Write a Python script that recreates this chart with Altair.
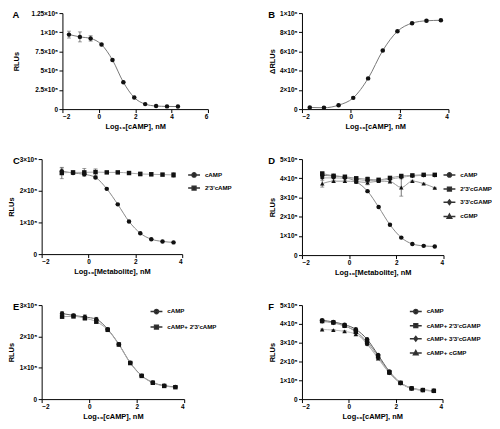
import altair as alt
import pandas as pd

FONT = "Liberation Sans"

# log10 concentrations (nM)
x_a = [-1.64, -1.04, -0.45, 0.15, 0.75, 1.35, 1.95, 2.55, 3.15, 3.75, 4.35]
x_b = [-1.68, -1.10, -0.50, 0.10, 0.71, 1.31, 1.91, 2.51, 3.10, 3.69]
x_c = [-1.14, -0.66, -0.18, 0.30, 0.78, 1.25, 1.73, 2.21, 2.68, 3.16, 3.63]

# A: RLUs vs cAMP
a_camp = [9.7e5, 9.4e5, 9.2e5, 8.4e5, 6.4e5, 3.5e5, 1.5e5, 0.65e5, 0.4e5, 0.35e5, 0.33e5]
a_err = [0.45e5, 0.65e5, 0.35e5, 0.15e5, 0.1e5, 0.08e5, 0.05e5, 0.03e5, 0.03e5, 0.02e5, 0.02e5]

# B: delta RLUs vs cAMP
b_camp = [1.7e4, 1.4e4, 4.1e4, 1.17e5, 3.2e5, 6.1e5, 8.1e5, 8.95e5, 9.2e5, 9.25e5]
b_err = [0.1e5] * 10

# C: cAMP vs 2'3'cAMP
c_camp = [2.62e5, 2.56e5, 2.52e5, 2.42e5, 2.06e5, 1.57e5, 1.03e5, 0.66e5, 0.47e5, 0.40e5, 0.37e5]
c_camp_err = [0.1e5, 0.03e5, 0.03e5, 0.03e5, 0.02e5, 0.02e5, 0.02e5, 0.02e5, 0.02e5, 0.01e5, 0.01e5]
c_23camp = [2.56e5, 2.58e5, 2.58e5, 2.59e5, 2.58e5, 2.58e5, 2.56e5, 2.53e5, 2.52e5, 2.51e5, 2.50e5]
c_23camp_err = [0.18e5, 0.04e5, 0.12e5, 0.1e5, 0.03e5, 0.03e5, 0.03e5, 0.06e5, 0.05e5, 0.04e5, 0.08e5]

# D: cAMP vs other metabolites
d_camp = [4.15e5, 4.12e5, 4.05e5, 3.82e5, 3.33e5, 2.50e5, 1.58e5, 0.91e5, 0.58e5, 0.48e5, 0.45e5]
d_camp_err = [0.05e5, 0.03e5, 0.03e5, 0.05e5, 0.04e5, 0.03e5, 0.03e5, 0.03e5, 0.02e5, 0.02e5, 0.02e5]
d_23cgamp = [4.25e5, 4.13e5, 4.08e5, 4.00e5, 3.95e5, 3.92e5, 4.02e5, 4.12e5, 4.15e5, 4.18e5, 4.18e5]
d_23cgamp_err = [0.06e5, 0.03e5, 0.04e5, 0.05e5, 0.12e5, 0.04e5, 0.03e5, 0.03e5, 0.03e5, 0.03e5, 0.03e5]
d_33cgamp = [4.02e5, 4.02e5, 4.00e5, 3.95e5, 3.88e5, 3.90e5, 3.95e5, 4.05e5, 4.12e5, 4.15e5, 4.16e5]
d_33cgamp_err = [0.04e5, 0.03e5, 0.03e5, 0.04e5, 0.05e5, 0.03e5, 0.03e5, 0.03e5, 0.03e5, 0.03e5, 0.03e5]
d_cgmp = [3.72e5, 3.85e5, 3.85e5, 3.83e5, 3.78e5, 3.85e5, 3.83e5, 3.52e5, 3.85e5, 3.72e5, 3.50e5]
d_cgmp_err = [0.18e5, 0.05e5, 0.05e5, 0.05e5, 0.12e5, 0.03e5, 0.03e5, 0.45e5, 0.05e5, 0.03e5, 0.03e5]

# E: cAMP alone and with 2'3'cAMP
e_camp = [2.73e5, 2.67e5, 2.62e5, 2.55e5, 2.23e5, 1.75e5, 1.16e5, 0.75e5, 0.53e5, 0.43e5, 0.39e5]
e_camp_err = [0.06e5, 0.05e5, 0.07e5, 0.06e5, 0.03e5, 0.03e5, 0.02e5, 0.02e5, 0.02e5, 0.02e5, 0.02e5]
e_mix = [2.63e5, 2.64e5, 2.58e5, 2.47e5, 2.21e5, 1.74e5, 1.15e5, 0.74e5, 0.52e5, 0.42e5, 0.38e5]
e_mix_err = [0.05e5, 0.05e5, 0.05e5, 0.06e5, 0.03e5, 0.03e5, 0.02e5, 0.02e5, 0.02e5, 0.02e5, 0.02e5]

# F: cAMP alone and with other metabolites
f_camp = [4.19e5, 4.10e5, 3.96e5, 3.71e5, 3.18e5, 2.35e5, 1.47e5, 0.87e5, 0.58e5, 0.49e5, 0.44e5]
f_23 = [4.15e5, 4.07e5, 3.90e5, 3.58e5, 3.05e5, 2.28e5, 1.43e5, 0.86e5, 0.57e5, 0.48e5, 0.44e5]
f_33 = [4.12e5, 4.05e5, 3.88e5, 3.62e5, 2.92e5, 2.20e5, 1.38e5, 0.84e5, 0.56e5, 0.47e5, 0.43e5]
f_cgmp = [3.70e5, 3.67e5, 3.60e5, 3.45e5, 2.95e5, 2.15e5, 1.40e5, 0.85e5, 0.57e5, 0.48e5, 0.44e5]
f_err = [0.03e5, 0.03e5, 0.04e5, 0.04e5, 0.04e5, 0.03e5, 0.03e5, 0.02e5, 0.02e5, 0.02e5, 0.02e5]

SHAPES = {"circle": "circle", "square": "square", "diamond": "diamond", "triangle": "triangle-up"}
# legend symbols: a short line with the marker on it, Prism style
LEG_PATHS = {
    "circle": "M-1,0H1M-0.36,0A0.36,0.36,0,1,0,0.36,0A0.36,0.36,0,1,0,-0.36,0Z",
    "square": "M-1,0H1M-0.32,-0.32H0.32V0.32H-0.32Z",
    "diamond": "M-1,0H1M0,-0.38L0.3,0L0,0.38L-0.3,0Z",
    "triangle": "M-1,0H1M0,-0.4L0.38,0.3H-0.38Z",
}


def sci_labels(vals, labels):
    expr = "''"
    for v, lab in reversed(list(zip(vals, labels))):
        expr = f"datum.value == {v} ? '{lab}' : {expr}"
    return expr


def panel(letter, x, series, x_title, y_title, x_max, y_ticks, y_labels,
          w, h, ytp=3.3, lead=0, dx=0, leg=None, row_pad=1.3):
    rows = []
    for name, ys, errs, shape, col in series:
        for xi, yi, ei in zip(x, ys, errs):
            rows.append({"x": xi, "y": yi, "err": ei, "series": name})
    df = pd.DataFrame(rows)
    names = [s[0] for s in series]

    xscale = alt.Scale(domain=[-2, x_max], nice=False)
    if lead:
        xscale = alt.Scale(domain=[-2, x_max], nice=False, range=[lead, w])
    xenc = alt.X("x:Q", scale=xscale,
                 axis=alt.Axis(values=list(range(-2, x_max + 1, 2)), title=x_title))
    yenc = alt.Y("y:Q", scale=alt.Scale(domain=[0, y_ticks[-1]], nice=False),
                 axis=alt.Axis(values=y_ticks, labelExpr=sci_labels(y_ticks, y_labels),
                               title=y_title, titlePadding=ytp, offset=-lead))

    base = alt.Chart(df)
    curve = base.mark_line(interpolate="monotone", strokeWidth=1).encode(
        xenc, yenc,
        color=alt.Color("series:N", scale=alt.Scale(domain=names, range=[s[4] for s in series]), legend=None),
    )
    bars = base.mark_errorbar(ticks=True, size=4, thickness=0.8, color="#555").encode(
        xenc, yenc, yError="err:Q"
    )
    pts = base.mark_point(filled=True, opacity=1, color="#111", size=20).encode(
        xenc, yenc,
        shape=alt.Shape("series:N", scale=alt.Scale(domain=names, range=[SHAPES[s[3]] for s in series]), legend=None),
    )
    layers = [curve, bars, pts]
    if leg:
        lg = base.transform_filter("false").mark_point(
            filled=True, fill="#111", stroke="#333", strokeWidth=0.9, opacity=1
        ).encode(
            xenc, yenc,
            shape=alt.Shape("series:N",
                            scale=alt.Scale(domain=names, range=[LEG_PATHS[s[3]] for s in series]),
                            legend=alt.Legend(title=None, orient="none", legendX=leg[0], legendY=leg[1],
                                              padding=0, symbolSize=144, labelFontSize=6.2,
                                              labelFont=FONT, labelFontWeight="bold", rowPadding=row_pad,
                                              labelOffset=4)),
        )
        layers.append(lg)
    chart = alt.layer(*layers).resolve_scale(shape="independent", color="independent")
    return chart.properties(
        width=w, height=h,
        title=alt.TitleParams(letter, anchor="start", frame="bounds", fontSize=9.5,
                              fontWeight="bold", font=FONT, offset=0, dx=dx, dy=9.5),
    )


xt_camp = "Log₁₀[cAMP], nM"
xt_met = "Log₁₀[Metabolite], nM"
t3 = [0, 100000, 200000, 300000]
l3 = ["0", "1×10⁵", "2×10⁵", "3×10⁵"]
t5 = [0, 100000, 200000, 300000, 400000, 500000]
l5 = ["0", "1×10⁵", "2×10⁵", "3×10⁵", "4×10⁵", "5×10⁵"]

pa = panel("A", x_a, [("cAMP", a_camp, a_err, "circle", "#777")], xt_camp, "RLUs", 6,
           [0, 250000, 500000, 750000, 1000000, 1250000],
           ["0", "2.5×10⁵", "5×10⁵", "7.5×10⁵", "1×10⁶", "1.25×10⁶"], 168, 97, ytp=10.8, lead=21)
pb = panel("B", x_b, [("cAMP", b_camp, b_err, "circle", "#777")], xt_camp, "ΔRLUs", 4,
           [0, 200000, 400000, 600000, 800000, 1000000],
           ["0", "2×10⁵", "4×10⁵", "6×10⁵", "8×10⁵", "1×10⁶"], 148, 97)
pc = panel("C", x_c, [("cAMP", c_camp, c_camp_err, "circle", "#888"),
                      ("2'3'cAMP", c_23camp, c_23camp_err, "square", "#aaa")],
           xt_met, "RLUs", 4, t3, l3, 142, 96, dx=5, leg=(147, 9), row_pad=0.3)
pd_ = panel("D", x_c, [("cAMP", d_camp, d_camp_err, "circle", "#888"),
                       ("2'3'cGAMP", d_23cgamp, d_23cgamp_err, "square", "#999"),
                       ("3'3'cGAMP", d_33cgamp, d_33cgamp_err, "diamond", "#aaa"),
                       ("cGMP", d_cgmp, d_cgmp_err, "triangle", "#999")],
            xt_met, "RLUs", 4, t5, l5, 143, 97, leg=(142, 9), row_pad=1.3)
pe = panel("E", x_c, [("cAMP", e_camp, e_camp_err, "circle", "#666"),
                      ("cAMP+ 2'3'cAMP", e_mix, e_mix_err, "square", "#aaa")],
           xt_camp, "RLUs", 4, t3, l3, 144, 95, dx=5, leg=(109, -0.5), row_pad=2.7)
pf = panel("F", x_c, [("cAMP", f_camp, f_err, "circle", "#555"),
                      ("cAMP+ 2'3'cGAMP", f_23, f_err, "square", "#888"),
                      ("cAMP+ 3'3'cGAMP", f_33, f_err, "diamond", "#aaa"),
                      ("cAMP+ cGMP", f_cgmp, f_err, "triangle", "#bbb")],
           xt_camp, "RLUs", 4, t5, l5, 142, 95, leg=(108, -0.5), row_pad=1.3)

chart = alt.concat(
    pa, pb, pc, pd_, pe, pf, columns=2, align="each", spacing={"row": 25.5, "column": 36}
).properties(
    padding={"left": 0, "top": 0, "right": 0, "bottom": 0}
).configure_view(stroke=None).configure_axis(
    grid=False, domainColor="#000", tickColor="#000", domainWidth=1, tickWidth=1, tickSize=3.5,
    labelFont=FONT, labelFontSize=6.5, labelFontWeight="bold", labelColor="#000", labelPadding=1.5,
    titleFont=FONT, titleFontSize=7.5, titleFontWeight="bold", titleColor="#000",
).configure_axisX(titlePadding=2.5).configure_legend(labelColor="#000")

chart.save("out.html", embed_options={"renderer": "svg", "actions": False})
